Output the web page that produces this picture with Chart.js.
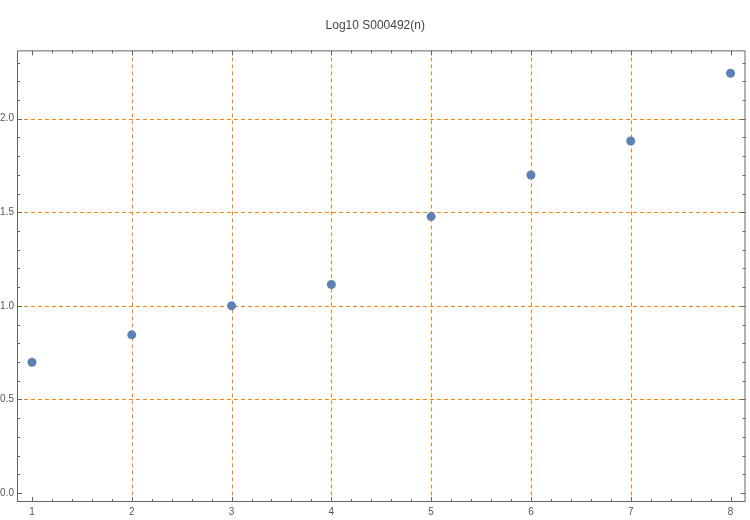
<!DOCTYPE html>
<html>
<head>
<meta charset="utf-8">
<script src="https://cdn.jsdelivr.net/npm/chart.js@4/dist/chart.umd.min.js"></script>
<style>
  html, body { margin: 0; padding: 0; background: #fff; }
  canvas { display: block; }
</style>
</head>
<body>
<canvas id="chart" width="750" height="520"></canvas>
<script>
// Data
const titleText = 'Log10 S000492(n)';
const nValues = [1, 2, 3, 4, 5, 6, 7, 8];
const logValues = [0.699, 0.845, 1.0, 1.114, 1.477, 1.699, 1.881, 2.243];

// Tick labels
const xTickValues = [1, 2, 3, 4, 5, 6, 7, 8];
const yTickValues = [0.0, 0.5, 1.0, 1.5, 2.0];

// Grid lines (dashed orange), skipping the ones on the plot edges
const xGridValues = [2, 3, 4, 5, 6, 7];
const yGridValues = [0.5, 1.0, 1.5, 2.0];

const gridOrange = '#f7870b';
const frameGray = '#666';

const gridPlugin = {
    id: 'dashedGrid',
    beforeDatasetsDraw(chart) {
        const { ctx, chartArea: a, scales: { x, y } } = chart;
        ctx.save();
        ctx.strokeStyle = gridOrange;
        ctx.lineWidth = 1;
        ctx.setLineDash([4, 3]);
        ctx.beginPath();
        xGridValues.forEach(v => {
            const px = Math.round(x.getPixelForValue(v)) + 0.5;
            ctx.moveTo(px, a.top);
            ctx.lineTo(px, a.bottom);
        });
        yGridValues.forEach(v => {
            const py = Math.round(y.getPixelForValue(v)) + 0.5;
            ctx.moveTo(a.left, py);
            ctx.lineTo(a.right, py);
        });
        ctx.stroke();
        ctx.restore();
    }
};

// Frame with inward ticks on all four sides
const framePlugin = {
    id: 'frame',
    afterDraw(chart) {
        const { ctx, chartArea: a, scales: { x, y } } = chart;
        ctx.save();
        ctx.strokeStyle = frameGray;
        ctx.lineWidth = 1;
        ctx.strokeRect(a.left + 0.5, a.top + 0.5, a.right - a.left - 1, a.bottom - a.top - 1);

        ctx.beginPath();
        // x ticks: majors on integers, minors every 0.2
        for (let i = Math.ceil(x.min * 5); i <= Math.floor(x.max * 5); i++) {
            const px = Math.round(x.getPixelForValue(i / 5)) + 0.5;
            const len = (i % 5 === 0) ? 5 : 3;
            ctx.moveTo(px, a.bottom);
            ctx.lineTo(px, a.bottom - len);
            ctx.moveTo(px, a.top);
            ctx.lineTo(px, a.top + len);
        }
        // y ticks: majors every 0.5, minors every 0.1
        for (let i = Math.ceil(y.min * 10); i <= Math.floor(y.max * 10); i++) {
            const py = Math.round(y.getPixelForValue(i / 10)) + 0.5;
            const len = (i % 5 === 0) ? 5 : 3;
            ctx.moveTo(a.left, py);
            ctx.lineTo(a.left + len, py);
            ctx.moveTo(a.right, py);
            ctx.lineTo(a.right - len, py);
        }
        ctx.stroke();
        ctx.restore();
    }
};

const ctx = document.getElementById('chart').getContext('2d');
new Chart(ctx, {
    type: 'scatter',
    data: {
        datasets: [{
            data: nValues.map((n, i) => ({ x: n, y: logValues[i] })),
            backgroundColor: '#5e81b5',
            borderWidth: 0,
            pointRadius: 4.5,
            pointHoverRadius: 4.5
        }]
    },
    options: {
        responsive: false,
        animation: false,
        // the x axis still keeps ~2.5px for half of the "8" label, so compensate here
        layout: { padding: { left: 0, right: -0.5, top: 0, bottom: 0 } },
        plugins: {
            legend: { display: false },
            tooltip: { enabled: false },
            title: {
                display: true,
                text: titleText,
                color: '#444',
                font: { family: 'Liberation Sans', size: 12, weight: 'normal' },
                padding: { top: 18, bottom: 18 }
            }
        },
        scales: {
            x: {
                type: 'linear',
                min: 0.85,
                max: 8.15,
                afterBuildTicks: scale => { scale.ticks = xTickValues.map(v => ({ value: v })); },
                afterFit: scale => {
                    scale.height = 18;
                    scale.paddingLeft = 0;
                    scale.paddingRight = 0;
                },
                border: { display: false },
                grid: { drawOnChartArea: false, drawTicks: false },
                ticks: {
                    color: '#555',
                    padding: 4,
                    maxRotation: 0,
                    autoSkip: false,
                    font: { family: 'Liberation Sans', size: 10 }
                }
            },
            y: {
                type: 'linear',
                min: -0.048,
                max: 2.365,
                afterBuildTicks: scale => { scale.ticks = yTickValues.map(v => ({ value: v })); },
                afterFit: scale => {
                    scale.width = 17;
                    scale.paddingTop = 0;
                    scale.paddingBottom = 0;
                },
                border: { display: false },
                grid: { drawOnChartArea: false, drawTicks: false },
                ticks: {
                    color: '#555',
                    padding: 3,
                    autoSkip: false,
                    font: { family: 'Liberation Sans', size: 10 },
                    callback: v => v.toFixed(1)
                }
            }
        }
    },
    plugins: [gridPlugin, framePlugin]
});
</script>
</body>
</html>
